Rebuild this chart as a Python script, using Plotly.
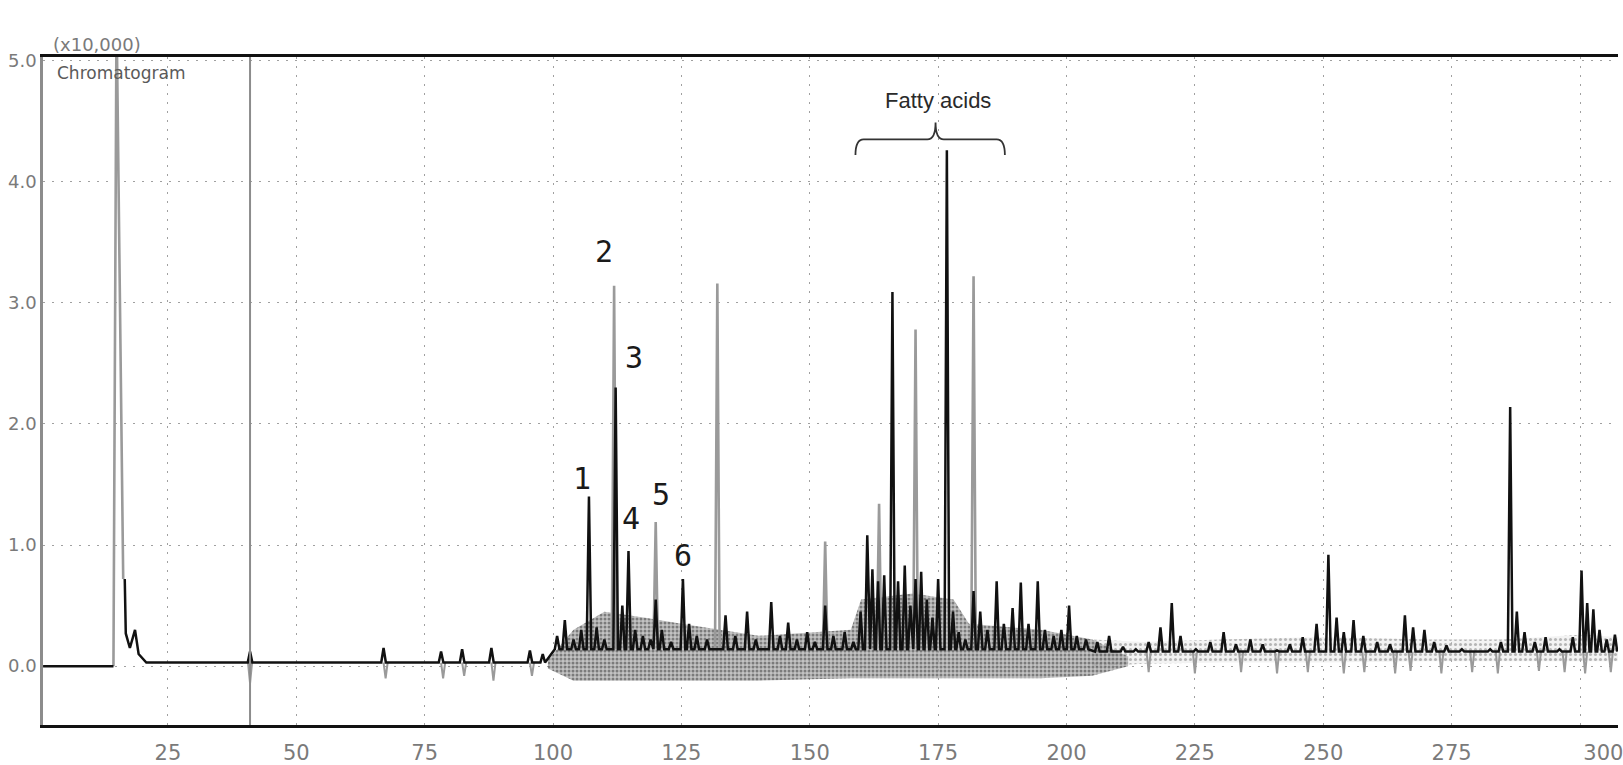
import numpy as np
import plotly.graph_objects as go

# ---------------- data ----------------
x_ticks = [25, 50, 75, 100, 125, 150, 175, 200, 225, 250, 275, 300]
x_tick_text = ["25", "50", "75", "100", "125", "150", "175", "200", "225", "250", "275", "300"]
y_ticks = [0, 1, 2, 3, 4, 5]
y_tick_text = ["0.0", "1.0", "2.0", "3.0", "4.0", "5.0"]

# baseline level of the trace by region (region start, level)
base_start = [0.0, 99.0, 205.0]
base_level = [0.03, 0.14, 0.12]

# flat start before the solvent front
lead_x = [0.7, 14.4]
lead_y = [0.0, 0.0]

# solvent front (grey, goes off-scale) and its dark tail
solvent_x = [14.4, 15.0, 16.3]
solvent_y = [0.0, 5.4, 0.72]
tail_x = [16.6, 16.8, 17.6, 18.6, 19.3, 20.8]
tail_y = [0.72, 0.27, 0.15, 0.30, 0.10, 0.03]

# dark (black) peaks: retention time (min) and intensity (x10,000)
dark_x = [41.0, 67.0, 78.2, 82.3, 88.0, 95.5, 98.0,
          100.8, 102.3, 104.0, 105.5, 107.0, 108.5, 110.0, 112.2, 113.5, 114.7,
          116.0, 117.5, 119.0, 120.0, 121.2, 123.0, 125.3, 126.5, 128.0, 130.0,
          133.6, 135.5, 137.8, 139.5, 142.5, 144.2, 145.8, 147.5, 149.5, 151.0,
          153.0, 154.6, 156.8, 158.5, 159.9, 161.2, 162.2, 163.3, 164.5, 166.1,
          167.2, 168.5, 169.6, 170.6, 171.7, 172.8, 173.9, 175.0, 176.7, 177.9,
          179.0, 180.3, 181.9, 183.2, 184.6, 186.4, 187.8, 189.5, 191.1, 192.6,
          194.4, 195.8, 197.5, 199.0, 200.5, 202.0, 203.8,
          206.0, 208.3, 211.0, 213.5, 216.0, 218.3, 220.5, 222.2, 225.2, 228.0,
          230.6, 233.0, 235.8, 238.2, 241.0, 243.5, 246.0, 248.7, 251.0, 252.6,
          254.0, 255.9, 257.8, 260.5, 263.0, 265.9, 267.5, 269.7, 271.6, 274.0,
          277.0, 280.0, 282.5, 284.6, 286.4, 287.7, 289.2, 291.2, 293.3, 296.0,
          298.6, 300.3, 301.4, 302.6, 303.8, 305.2, 306.8]
dark_h = [0.12, 0.15, 0.12, 0.14, 0.15, 0.13, 0.10,
          0.25, 0.38, 0.22, 0.30, 1.40, 0.32, 0.22, 2.30, 0.50, 0.95,
          0.30, 0.25, 0.22, 0.55, 0.30, 0.20, 0.72, 0.35, 0.25, 0.22,
          0.42, 0.25, 0.45, 0.22, 0.53, 0.25, 0.36, 0.22, 0.28, 0.20,
          0.50, 0.25, 0.28, 0.20, 0.45, 1.08, 0.80, 0.70, 0.75, 3.09,
          0.70, 0.83, 0.50, 0.72, 0.78, 0.55, 0.40, 0.72, 4.26, 0.45,
          0.28, 0.22, 0.62, 0.45, 0.30, 0.70, 0.35, 0.48, 0.69, 0.35,
          0.70, 0.30, 0.25, 0.30, 0.50, 0.25, 0.22,
          0.20, 0.25, 0.16, 0.14, 0.20, 0.32, 0.52, 0.25, 0.14, 0.20,
          0.28, 0.18, 0.22, 0.18, 0.13, 0.18, 0.24, 0.35, 0.92, 0.40,
          0.28, 0.38, 0.25, 0.20, 0.18, 0.42, 0.32, 0.30, 0.20, 0.17,
          0.14, 0.12, 0.14, 0.20, 2.14, 0.45, 0.28, 0.20, 0.24, 0.14,
          0.24, 0.79, 0.52, 0.47, 0.30, 0.22, 0.26]

# grey (lighter) peaks
grey_x = [111.9, 120.0, 132.0, 153.0, 163.5, 170.6, 181.9]
grey_h = [3.14, 1.19, 3.16, 1.03, 1.34, 2.78, 3.22]

# small grey dips below the baseline
dip_x = [41.0, 67.4, 78.6, 82.7, 88.4, 95.9, 216.0, 225.0, 234.0, 241.0, 247.0,
         254.0, 258.0, 264.0, 267.0, 273.0, 279.0, 284.0, 292.0, 297.0, 301.0, 306.0]
dip_y = [-0.14, -0.10, -0.10, -0.08, -0.12, -0.08, -0.05, -0.06, -0.05, -0.06, -0.05,
         -0.06, -0.05, -0.06, -0.04, -0.06, -0.05, -0.06, -0.04, -0.05, -0.06, -0.05]

# dense grey noise band under the crowded part of the trace
band_x = [99, 104, 110, 118, 125, 140, 158, 160, 170, 178, 181, 195, 205, 212]
band_hi = [0.05, 0.30, 0.45, 0.40, 0.35, 0.25, 0.30, 0.55, 0.60, 0.55, 0.35, 0.30, 0.22, 0.08]
band_lo = [-0.02, -0.12, -0.12, -0.12, -0.12, -0.12, -0.10, -0.10, -0.10, -0.10, -0.10, -0.10, -0.08, 0.0]

# lighter noise band along the late part of the run
band2_x = [205, 215, 230, 250, 270, 285, 300, 307.4]
band2_hi = [0.22, 0.20, 0.22, 0.24, 0.22, 0.22, 0.26, 0.24]
band2_lo = [0.0, 0.02, 0.03, 0.03, 0.04, 0.04, 0.04, 0.04]

peak_labels = ["1", "2", "3", "4", "5", "6"]
label_x = [105.6, 110.0, 115.8, 115.2, 121.1, 125.4]
label_y = [1.55, 3.42, 2.55, 1.22, 1.42, 0.91]

# fatty-acid group: left end, brace tip, right end
fatty_acid_span = [158.9, 174.5, 188.0]
cursor_x = 41.0

# ---------------- build figure ----------------
HALF = 0.45  # peak half-width used to draw each peak


def base_at(x):
    i = np.searchsorted(base_start, x, side="right") - 1
    return base_level[max(i, 0)]


def peak_path(xs, hs, sep):
    px, py = [], []
    for x, h in zip(xs, hs):
        b = base_at(x)
        px += [x - HALF, x, x + HALF]
        py += [b, h, b]
        if sep:
            px.append(None)
            py.append(None)
    return px, py


fig = go.Figure()

# noise bands
fig.add_trace(go.Scatter(
    x=band2_x + band2_x[::-1], y=band2_hi + band2_lo[::-1],
    mode="lines", fill="toself", line=dict(width=0),
    fillcolor="rgba(200,200,200,0.35)",
    fillpattern=dict(shape=".", fgcolor="#777777", bgcolor="rgba(225,225,225,0.4)",
                     size=5, solidity=0.3),
    hoverinfo="skip", showlegend=False))
fig.add_trace(go.Scatter(
    x=band_x + band_x[::-1], y=band_hi + band_lo[::-1],
    mode="lines", fill="toself", line=dict(width=0),
    fillcolor="rgba(130,130,130,0.7)",
    fillpattern=dict(shape=".", fgcolor="#333333", bgcolor="rgba(175,175,175,0.75)",
                     size=4, solidity=0.45),
    hoverinfo="skip", showlegend=False))

# grey dips
dx, dy = [], []
for x, y in zip(dip_x, dip_y):
    b = base_at(x)
    dx += [x - 0.4, x, x + 0.4, None]
    dy += [b, y, b, None]
fig.add_trace(go.Scatter(x=dx, y=dy, mode="lines",
                         line=dict(color="#9a9a9a", width=2.0),
                         hoverinfo="skip", showlegend=False))

# grey peaks + solvent front
gx, gy = peak_path(grey_x, grey_h, True)
gx = solvent_x + [None] + gx
gy = solvent_y + [None] + gy
fig.add_trace(go.Scatter(x=gx, y=gy, mode="lines",
                         line=dict(color="#9a9a9a", width=2.6),
                         hoverinfo="skip", showlegend=False))

# dark trace
kx, ky = peak_path(dark_x, dark_h, False)
tx = lead_x + [None] + tail_x + kx
ty = lead_y + [None] + tail_y + ky
fig.add_trace(go.Scatter(x=tx, y=ty, mode="lines",
                         line=dict(color="#111111", width=2.5),
                         connectgaps=False, hoverinfo="skip", showlegend=False))

# cursor line
fig.add_shape(type="line", xref="x", yref="paper", x0=cursor_x, x1=cursor_x,
              y0=0, y1=1, line=dict(color="#8c8c8c", width=2))

# brace over the fatty acid group
x0, xm, x1 = fatty_acid_span
ye, yb, yt = 4.22, 4.35, 4.49
d = 1.6
path = (f"M {x0},{ye} Q {x0},{yb} {x0 + d},{yb} L {xm - d},{yb} "
        f"Q {xm},{yb} {xm},{yt} Q {xm},{yb} {xm + d},{yb} L {x1 - d},{yb} "
        f"Q {x1},{yb} {x1},{ye}")
fig.add_shape(type="path", xref="x", yref="y", path=path,
              line=dict(color="#333333", width=1.8))

fig.add_annotation(x=175.0, y=4.67, xref="x", yref="y", text="Fatty acids",
                   showarrow=False, font=dict(family="Liberation Sans", size=22, color="#2a2a2a"))

for t, lx, ly in zip(peak_labels, label_x, label_y):
    fig.add_annotation(x=lx, y=ly, xref="x", yref="y", text=t, showarrow=False,
                       font=dict(family="DejaVu Sans Mono", size=30, color="#1a1a1a"))

fig.add_annotation(x=0, y=1, xref="paper", yref="paper", xanchor="left", yanchor="bottom",
                   xshift=8, yshift=0, text="(x10,000)", showarrow=False,
                   font=dict(family="DejaVu Sans", size=18, color="#7a7a7a"))
fig.add_annotation(x=0, y=1, xref="paper", yref="paper", xanchor="left", yanchor="top",
                   xshift=12, yshift=-4, text="Chromatogram", showarrow=False,
                   font=dict(family="DejaVu Sans", size=17, color="#5a5a5a"))

# last tick label sits right of its gridline in the original, cut by the edge
x_tick_text_shown = x_tick_text[:-1] + ["\u00a0" * 7 + x_tick_text[-1]]

fig.update_layout(
    width=1623, height=765,
    margin=dict(l=43, r=0, t=57, b=38),
    paper_bgcolor="white", plot_bgcolor="white",
    showlegend=False,
    xaxis=dict(range=[0.68, 307.4], tickvals=x_ticks, ticktext=x_tick_text_shown,
               showgrid=True, gridcolor="#a0a0a0", gridwidth=1.3, griddash="2px,7px",
               showline=True, linecolor="#111111", linewidth=3, mirror=True,
               ticks="", ticklabelstandoff=7, ticklabeloverflow="allow", zeroline=False,
               tickfont=dict(family="DejaVu Sans", size=21, color="#7a7a7a")),
    yaxis=dict(range=[-0.486, 5.03], tickvals=y_ticks, ticktext=y_tick_text,
               showgrid=True, gridcolor="#a0a0a0", gridwidth=1.3, griddash="2px,7px",
               showline=True, linecolor="#8c8c8c", linewidth=2.5,
               ticks="", ticklabelstandoff=0, zeroline=False,
               tickfont=dict(family="DejaVu Sans", size=18, color="#7a7a7a")),
)

fig.write_html("out.html", config={"displayModeBar": False},
               post_script="document.body.style.margin='0';")
